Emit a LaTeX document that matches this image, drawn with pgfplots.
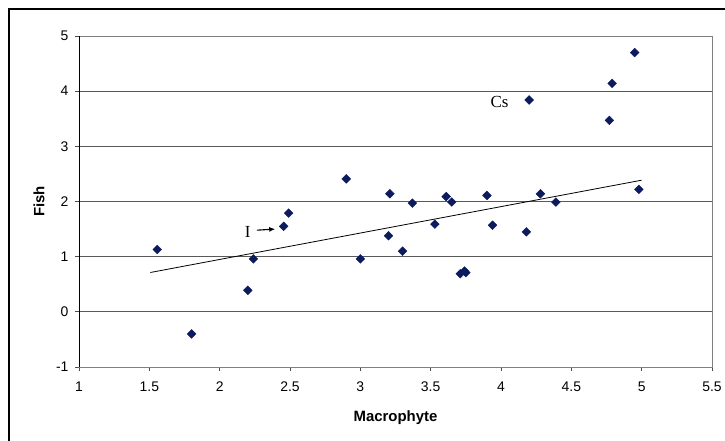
\documentclass[border=0pt]{standalone}
\usepackage{pgfplots}
\pgfplotsset{compat=1.18}
\usetikzlibrary{arrows.meta}
\usepackage{fontspec}
\setmainfont{Liberation Sans}
\newfontfamily\serifx{Liberation Serif}
\definecolor{navy}{RGB}{12,26,94}
\begin{document}
\begin{tikzpicture}[x=1bp,y=1bp]
\path[use as bounding box] (0,0) rectangle (725,441);
% outer chart frame (only left and top visible)
\draw[line width=1.2bp] (9,0) -- (9,432) -- (725,432);
\begin{axis}[
    at={(79bp,74bp)}, anchor=south west,
    scale only axis,
    width=633bp, height=331bp,
    xmin=1, xmax=5.5, ymin=-1, ymax=5,
    xtick={1,1.5,...,5.5}, ytick={-1,0,...,5},
    xticklabels={1,1.5,2,2.5,3,3.5,4,4.5,5,5.5},
    tick align=outside, major tick length=4bp,
    xtick pos=bottom, ytick pos=left,
    tick style={black!70, line width=0.8bp},
    ymajorgrids=true,
    grid style={black!65, line width=0.9bp},
    axis line style={black!50, line width=0.9bp},
    /pgf/number format/assume math mode=true,
    ticklabel style={font=\fontsize{14}{16}\selectfont},
    xticklabel style={yshift=-7bp},
    yticklabel style={xshift=-3bp},
    xlabel={\textbf{Macrophyte}}, ylabel={\textbf{Fish}},
    label style={font=\fontsize{15}{17}\selectfont},
    xlabel style={at={(axis description cs:0.5,0)}, anchor=center, yshift=-51bp},
    ylabel style={at={(axis description cs:0,0.5)}, anchor=center, yshift=40bp},
    clip=false,
]
\addplot[only marks, mark=square*, mark size=3.1bp,
    mark options={rotate=45, fill=navy, draw=navy}]
coordinates {
(1.556,1.13) (1.80,-0.40) (2.20,0.39) (2.24,0.96) (2.455,1.55) (2.49,1.79)
(2.90,2.41) (3.00,0.96) (3.20,1.38) (3.21,2.14) (3.30,1.10) (3.37,1.97)
(3.53,1.59) (3.61,2.09) (3.65,1.99) (3.71,0.69) (3.75,0.71) (3.74,0.74)
(3.90,2.11) (3.94,1.57) (4.18,1.45) (4.20,3.84) (4.28,2.14) (4.39,1.99)
(4.77,3.47) (4.79,4.14) (4.95,4.70) (4.98,2.22)
};
% linear trend line
\addplot[black, line width=0.8bp] coordinates {(1.507,0.713) (5.0,2.386)};
\node[font=\serifx\fontsize{17}{19}\selectfont] at (axis cs:2.20,1.45) {I};
\draw[-{Latex[length=6bp,width=5bp]}, line width=1.1bp] (axis cs:2.265,1.48) -- (axis cs:2.395,1.50);
\node[font=\serifx\fontsize{17}{19}\selectfont] at (axis cs:3.99,3.81) {Cs};
\draw[black, line width=1bp] (axis cs:1,-1) -- (axis cs:1,5);
\end{axis}
\end{tikzpicture}
\end{document}
